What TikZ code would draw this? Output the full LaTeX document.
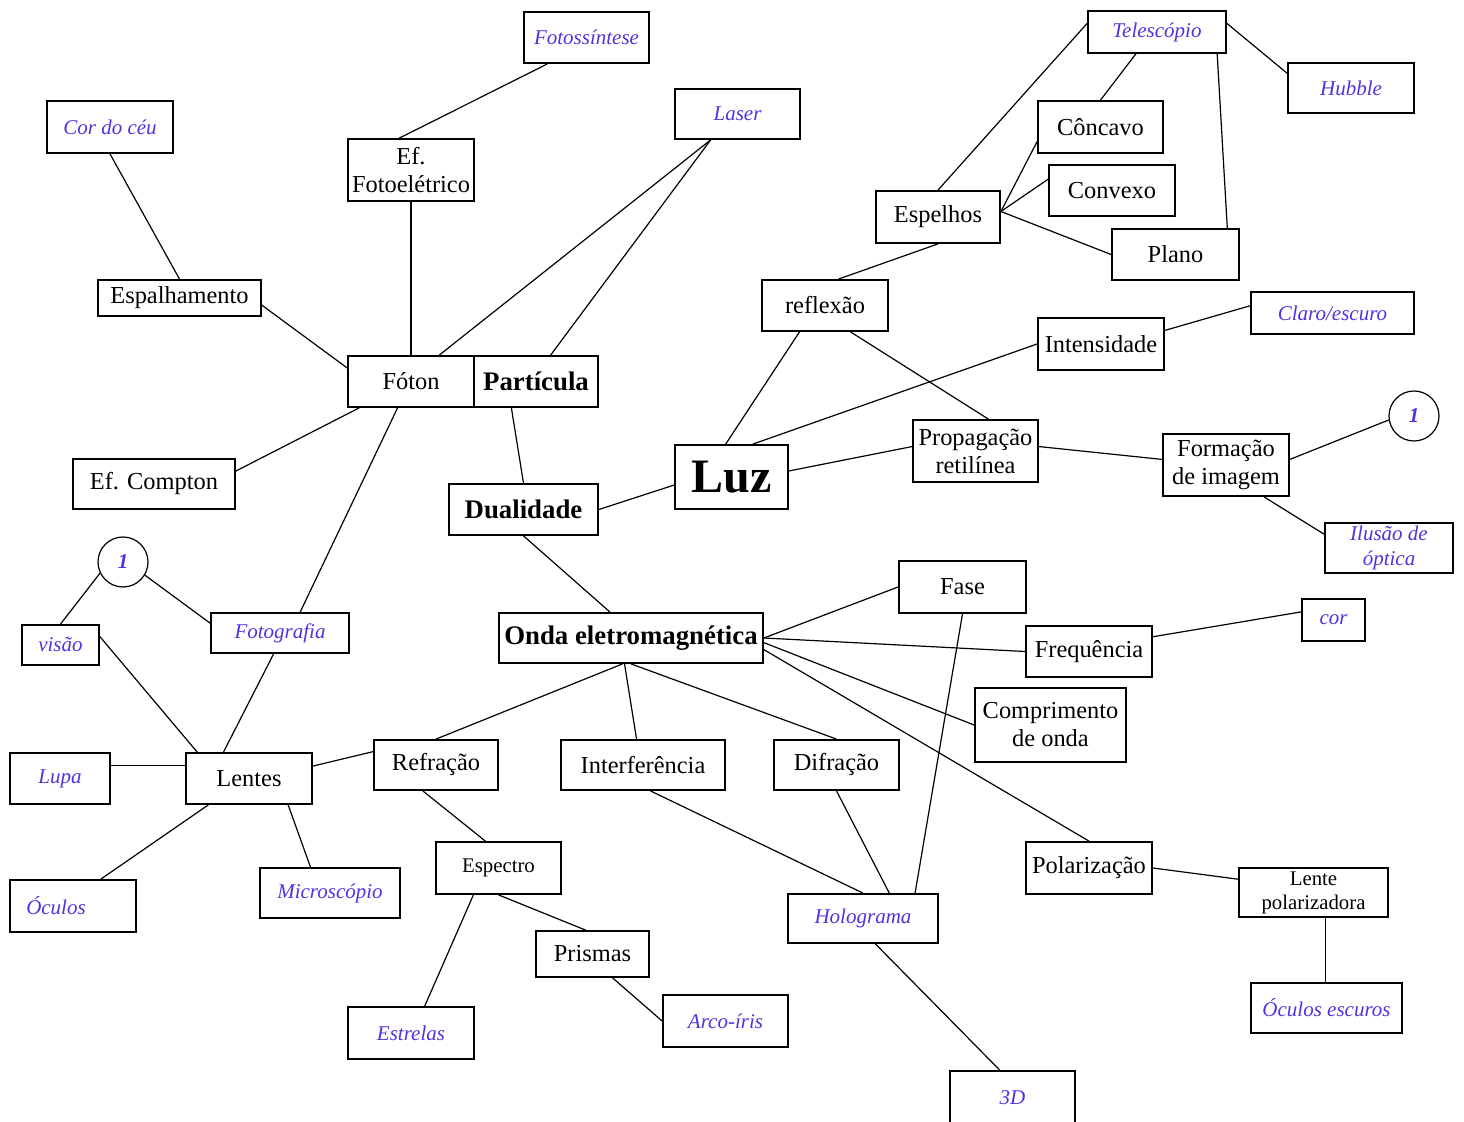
\documentclass[tikz,border=0pt]{standalone}
\usepackage{fontspec}
\setmainfont{Liberation Serif}
\usepackage{tikz}

\definecolor{azul}{RGB}{78,52,222}

\tikzset{
  conceito/.style={draw, line width=0.9pt, align=center, inner sep=0pt,
    font=\fontsize{12.2}{14}\selectfont},
  ideia/.style={conceito, text=azul, font=\fontsize{10.5}{12.5}\selectfont\itshape},
  chave/.style={conceito, font=\fontsize{13.4}{15}\selectfont\bfseries},
  miudo/.style={conceito, font=\fontsize{10.4}{12}\selectfont},
  remete/.style={circle, draw, line width=0.6pt, minimum size=25pt, inner sep=0pt,
    text=azul, font=\fontsize{10.5}{12}\selectfont\bfseries\itshape},
  tam/.style 2 args={minimum width=#1*0.5pt, minimum height=#2*0.5pt},
  liga/.style={line width=0.6pt},
}

\begin{document}
\begin{tikzpicture}[x=0.5pt,y=0.5pt,yscale=-1,xscale=1]
\useasboundingbox (0,0) rectangle (1464,1122);

% Centro
\node[conceito, tam={113}{64}, font=\fontsize{24}{28}\selectfont\bfseries] (luz) at (731.5,477) {Luz};
\node[chave, tam={149}{51}] (dualidade) at (523.5,509.5) {Dualidade};
\node[chave, tam={264}{50}] (onda) at (631,638) {Onda eletromagnética};
\node[conceito, tam={126}{51}] (foton) at (411,381.5) {Fóton};
\node[chave, tam={124}{51}] (particula) at (536,381.5) {Partícula};

% Ramo do foton
\node[ideia, tam={125}{51}] (fotossintese) at (586.5,37.5) {Fotossíntese};
\node[conceito, tam={126}{62}] (fotoeletrico) at (411,170) {Ef.\\Fotoelétrico};
\node[ideia, tam={126}{52}] (cordoceu) at (110,127) {Cor do céu};
\node[conceito, tam={163}{36}] (espalhamento) at (179.5,298) {Espalhamento};
\node[ideia, tam={125}{50}] (laser) at (737.5,114) {Laser};
\node[conceito, tam={162}{50}] (compton) at (154,484) {Ef. Compton};

% Reflexao
\node[conceito, tam={126}{51}] (reflexao) at (825,305.5) {reflexão};
\node[conceito, tam={124}{52}] (espelhos) at (938,217) {Espelhos};
\node[ideia, tam={138}{42}] (telescopio) at (1157,32) {Telescópio};
\node[ideia, tam={126}{50}] (hubble) at (1351,88) {Hubble};
\node[conceito, tam={125}{52}] (concavo) at (1100.5,127) {Côncavo};
\node[conceito, tam={126}{51}] (convexo) at (1112,190.5) {Convexo};
\node[conceito, tam={127}{51}] (plano) at (1175.5,254.5) {Plano};
\node[conceito, tam={126}{52}] (intensidade) at (1101,344) {Intensidade};
\node[ideia, tam={163}{42}] (claro) at (1332.5,313) {Claro/escuro};

% Propagacao
\node[conceito, tam={125}{62}] (propagacao) at (975.5,451) {Propagação\\retilínea};
\node[conceito, tam={126}{62}] (formacao) at (1226,465) {Formação\\de imagem};
\node[remete] (umdir) at (1414,416) {1};
\node[ideia, tam={128}{50}] (ilusao) at (1389,548) {Ilusão de\\óptica};

% Lentes
\node[remete] (umesq) at (123,562) {1};
\node[ideia, tam={77}{40}] (visao) at (60.5,645) {visão};
\node[ideia, tam={138}{40}] (fotografia) at (280,633) {Fotografia};
\node[ideia, tam={100}{51}] (lupa) at (60,778.5) {Lupa};
\node[conceito, tam={126}{51}] (lentes) at (249,778.5) {Lentes};
\node[ideia, tam={126}{52}] (oculos) at (73,906) {\hspace*{-17pt}Óculos};
\node[ideia, tam={140}{50}] (microscopio) at (330,893) {Microscópio};

% Onda
\node[conceito, tam={127}{52}] (fase) at (962.5,587) {Fase};
\node[conceito, tam={126}{51}] (frequencia) at (1089,651.5) {Frequência};
\node[ideia, tam={63}{42}] (cor) at (1333.5,620) {cor};
\node[conceito, tam={151}{74}] (comprimento) at (1050.5,725) {Comprimento\\de onda};
\node[conceito, tam={124}{50}] (refracao) at (436,765) {Refração};
\node[conceito, tam={164}{50}] (interferencia) at (643,765) {Interferência};
\node[conceito, tam={125}{50}] (difracao) at (836.5,765) {Difração};
\node[miudo, tam={125}{52}] (espectro) at (498.5,868) {Espectro};
\node[conceito, tam={113}{46}] (prismas) at (592.5,954) {Prismas};
\node[ideia, tam={125}{52}] (arco) at (725.5,1021) {Arco-íris};
\node[ideia, tam={126}{52}] (estrelas) at (411,1033) {Estrelas};
\node[ideia, tam={150}{49}] (holograma) at (863,918.5) {Holograma};
\node[ideia, tam={125}{53}] (tresd) at (1012.5,1097.5) {3D};
\node[conceito, tam={126}{52}] (polarizacao) at (1089,868) {Polarização};
\node[miudo, tam={149}{49}] (lentepol) at (1313.5,892.5) {Lente\\polarizadora};
\node[ideia, tam={151}{50}] (oculosesc) at (1326.5,1008) {Óculos escuros};

% Ligacoes
\draw[liga] (fotossintese.-146) -- (fotoeletrico.110);
\draw[liga] (cordoceu.south) -- (espalhamento.north);
\draw[liga] (fotoeletrico.south) -- (foton.north);
\draw[liga] (espalhamento.-5) -- (foton.168);
\draw[liga] (laser.-136) -- (foton.43);
\draw[liga] (laser.-136) -- (particula.61);
\draw[liga] (foton.-153) -- (compton.9);
\draw[liga] (foton.-117) -- (fotografia.46);
\draw[liga] (particula.-133) -- (dualidade.north);
\draw[liga] (dualidade.east) -- (luz.-172);
\draw[liga] (dualidade.south) -- (onda.129);
\draw[liga] (luz.100) -- (reflexao.-134);
\draw[liga] (luz.57) -- (intensidade.west);
\draw[liga] (luz.6) -- (propagacao.176);
\draw[liga] (reflexao.-46) -- (propagacao.68);
\draw[liga] (reflexao.63) -- (espelhos.south);
\draw[liga] (espelhos.north) -- (telescopio.173);
\draw[liga] (espelhos.5) -- (concavo.-167);
\draw[liga] (espelhos.5) -- (convexo.170);
\draw[liga] (espelhos.5) -- (plano.west);
\draw[liga] (telescopio.-134) -- (concavo.north);
\draw[liga] (telescopio.-20) -- (plano.27);
\draw[liga] (telescopio.7) -- (hubble.167);
\draw[liga] (intensidade.12) -- (claro.175);
\draw[liga] (propagacao.4) -- (formacao.175);
\draw[liga] (formacao.5) -- (umdir.189);
\draw[liga] (formacao.-40) -- (ilusao.168);
\draw[liga] (onda.east) -- (fase.west);
\draw[liga] (onda.east) -- (frequencia.west);
\draw[liga] (onda.-2) -- (comprimento.west);
\draw[liga] (onda.-5) -- (polarizacao.north);
\draw[liga] (onda.-108) -- (refracao.north);
\draw[liga] (onda.-104) -- (interferencia.104);
\draw[liga] (onda.south) -- (difracao.north);
\draw[liga] (fase.south) -- (holograma.26);
\draw[liga] (frequencia.13) -- (cor.166);
\draw[liga] (polarizacao.east) -- (lentepol.170);
\draw[liga] (lentepol.-65) -- (lentepol.-65 |- oculosesc.north);
\draw[liga] (refracao.168) -- (lentes.11);
\draw[liga] (refracao.-117) -- (espectro.116);
\draw[liga] (interferencia.-74) -- (holograma.north);
\draw[liga] (difracao.south) -- (holograma.44);
\draw[liga] (holograma.-64) -- (tresd.115);
\draw[liga] (espectro.south) -- (prismas.106);
\draw[liga] (espectro.-133) -- (estrelas.63);
\draw[liga] (prismas.-50) -- (arco.west);
\draw[liga] (lupa.14) -- (lupa.14 -| lentes.west);
\draw[liga] (lentes.153) -- (visao.12);
\draw[liga] (lentes.134) -- (fotografia.-107);
\draw[liga] (lentes.-147) -- (oculos.44);
\draw[liga] (lentes.-34) -- (microscopio.127);
\draw[liga] (visao.north) -- (umesq.206);
\draw[liga] (umesq.-31) -- (fotografia.172);

\end{tikzpicture}
\end{document}
